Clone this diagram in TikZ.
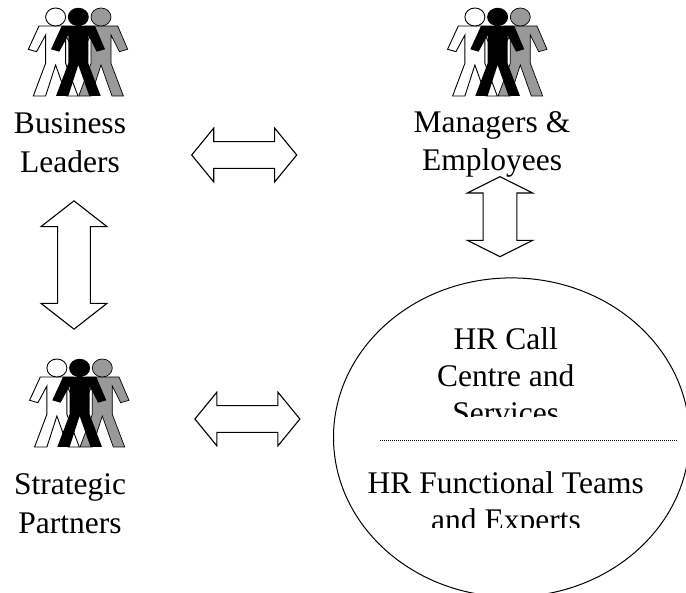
\documentclass[tikz,border=0pt]{standalone}
\usepackage{fontspec}
\setmainfont{Liberation Serif}
\usetikzlibrary{shapes.geometric,shapes.arrows}
\newcommand{\bodypath}{(61.7,26) -- (95,26) -- (105,49.3) -- (96.7,51.7) -- (88.3,35) -- (88.3,63.3) -- (100.7,96) -- (89.3,96) -- (78.3,65) -- (68.3,96) -- (56,96) -- (68.3,63.3) -- (68.3,35) -- (59.3,51.7) -- (51,49.3) -- cycle}
\tikzset{
  x=1pt,y=-1pt,
  label text/.style={font=\fontsize{31.5}{37}\selectfont,anchor=base,inner sep=0pt,align=center},
  dbl/.style={shape=double arrow,draw=black,fill=white,line width=1.1pt,inner xsep=0pt,miter limit=10},
  hdbl/.style={dbl,inner ysep=12.85pt,minimum height=105pt,double arrow head extend=13.5pt,double arrow tip angle=101.4},
  person/.pic={
    \begin{scope}[xshift=-22.7pt]
      \draw[fill=white,line width=0.9pt] \bodypath;
      \draw[fill=white,line width=0.9pt] (78.3,17) ellipse [x radius=10,y radius=9];
    \end{scope}
    \begin{scope}[xshift=22.7pt]
      \draw[fill=gray!80,line width=0.7pt] \bodypath;
      \draw[fill=gray!80,line width=0.7pt] (78.3,17) ellipse [x radius=10,y radius=9];
    \end{scope}
    \fill[black] \bodypath;
    \fill[black] (78.3,17) ellipse [x radius=10.5,y radius=9.2];
  }
}
\begin{document}
\begin{tikzpicture}
\clip (0,0) rectangle (686,593);
\fill[white] (0,0) rectangle (686,593);
\pic (pa) at (0,0) {person};
\pic (pb) at (419.3,0) {person};
\pic (pc) at (1.3,351) {person};
\node[label text] (business) at (70,134) {Business};
\node[label text] (leaders) at (70,173) {Leaders};
\node[label text] (managers) at (492,133) {Managers \&};
\node[label text] (employees) at (492,171) {Employees};
\node[label text] (strategic) at (70,495) {Strategic};
\node[label text] (partners) at (70,533) {Partners};
\node[hdbl] (h1) at (244.2,155) {};
\node[hdbl] (h2) at (247.4,419) {};
\node[dbl,rotate=90,inner ysep=15.85pt,minimum height=128.3pt,double arrow head extend=16.5pt,double arrow tip angle=104] (v1) at (74,265) {};
\node[dbl,rotate=90,inner ysep=16.35pt,minimum height=80pt,double arrow head extend=15.8pt,double arrow tip angle=127] (v2) at (500,216.7) {};
\node[ellipse,draw,line width=1pt,minimum width=356pt,minimum height=319pt,inner sep=0pt] (hr) at (511.5,437.4) {};
\node[label text] (call) at (505.7,350) {HR Call};
\node[label text] (centre) at (505.7,386.7) {Centre and};
\begin{scope}
  \clip (340,300) rectangle (680,417);
  \node[label text] (services) at (505.7,424) {Services};
\end{scope}
\node[label text] (functional) at (505.7,493.3) {HR Functional Teams};
\begin{scope}
  \clip (340,500) rectangle (680,528);
  \node[label text] (experts) at (506,531) {and Experts};
\end{scope}
\coordinate (dl) at (380,440.7);
\coordinate (dr) at (677,440.7);
\draw[line width=0.7pt,dash pattern=on 0.9pt off 1.1pt] (dl) -- (dr);
\end{tikzpicture}
\end{document}
